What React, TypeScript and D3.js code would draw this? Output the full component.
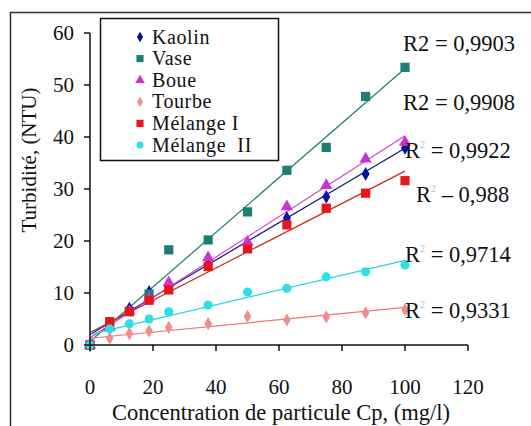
import React from "react";
import * as d3 from "d3";

const xValues = [0, 6.25, 12.5, 18.75, 25, 37.5, 50, 62.5, 75, 87.5, 100];
const seriesNames = ["Kaolin", "Vase", "Boue", "Tourbe", "Mélange I", "Mélange  II"];
const kaolin = [0, 4.0, 7.0, 10.2, 11.5, 16.5, 19.6, 24.4, 28.5, 32.9, 37.9];
const vase = [0, 3.5, 6.5, 9.8, 18.3, 20.2, 25.6, 33.6, 38.0, 47.8, 53.4];
const boue = [0, 3.5, 6.5, 9.0, 12.0, 16.8, 19.8, 26.6, 30.7, 35.8, 39.0];
const tourbe = [0, 1.3, 2.2, 2.7, 3.4, 4.1, 5.5, 4.8, 5.4, 6.2, 6.8];
const melange1 = [0, 4.5, 6.4, 8.6, 10.6, 15.1, 18.5, 23.1, 26.3, 29.2, 31.6];
const melange2 = [0, 3.1, 4.1, 5.0, 6.4, 7.7, 10.2, 10.9, 13.1, 14.1, 15.4];
const xTicks = [0, 20, 40, 60, 80, 100, 120];
const yTicks = [0, 10, 20, 30, 40, 50, 60];
const r2Labels = ["R2 = 0,9903", "R2 = 0,9908", "= 0,9922", "– 0,988", "= 0,9714", "= 0,9331"];

const seriesValues = [kaolin, vase, boue, tourbe, melange1, melange2];
const colors = ["#0c0ca8", "#1b7f76", "#cc33cc", "#f08c8c", "#e8161b", "#2ee0e6"];
const lineColors = ["#14148a", "#1f7a72", "#d040d0", "#e87878", "#c8281c", "#2ad4dc"];
const symbols = [d3.symbolDiamond, d3.symbolSquare, d3.symbolTriangle, d3.symbolDiamond, d3.symbolSquare, d3.symbolCircle];
const symSizes = [55, 85, 65, 50, 85, 65];

const FONT = '"Liberation Serif"';

function regress(xs: number[], ys: number[]) {
  const n = xs.length;
  const mx = d3.mean(xs)!;
  const my = d3.mean(ys)!;
  let num = 0, den = 0;
  for (let i = 0; i < n; i++) {
    num += (xs[i] - mx) * (ys[i] - my);
    den += (xs[i] - mx) ** 2;
  }
  const b = num / den;
  return { a: my - b * mx, b };
}

export default function App() {
  const W = 531, H = 426;
  const x = d3.scaleLinear().domain([0, 120]).range([90, 468]);
  const y = d3.scaleLinear().domain([0, 60]).range([345, 33]);
  const line = d3.line<[number, number]>().x(d => x(d[0])).y(d => y(d[1]));

  const r2Pos = [
    { x: 403, y: 51, sup: false },
    { x: 403, y: 110, sup: false },
    { x: 405, y: 158, sup: true },
    { x: 416, y: 202, sup: true },
    { x: 405, y: 262, sup: true },
    { x: 405, y: 318, sup: true },
  ];

  return (
    <svg width={W} height={H} style={{ position: "absolute", left: 0, top: 0, background: "#fff" }}>
      <rect x={0} y={0} width={W} height={H} fill="#fff" />
      <path d={`M10.5,${H + 2} L10.5,12.5 L${W + 2},12.5`} fill="none" stroke="#333" strokeWidth={1.5} />

      {seriesValues.map((vals, i) => {
        const { a, b } = regress(xValues, vals);
        return (
          <path key={"t" + i} d={line([[0, a], [100, a + b * 100]])!} fill="none" stroke={lineColors[i]} strokeWidth={1.2} />
        );
      })}

      {seriesValues.map((vals, i) => (
        <g key={"m" + i} fill={colors[i]}>
          {vals.map((v, j) => (
            <path key={j} d={d3.symbol().type(symbols[i]).size(symSizes[i])()!} transform={`translate(${x(xValues[j])},${y(v)})`} />
          ))}
        </g>
      ))}

      <line x1={x(0)} x2={x(0)} y1={y(60)} y2={y(0)} stroke="#111" strokeWidth={1.5} />
      <line x1={x(0)} x2={x(120)} y1={y(0)} y2={y(0)} stroke="#111" strokeWidth={1.5} />
      {yTicks.map(t => (
        <g key={"y" + t}>
          <line x1={x(0) - 6} x2={x(0)} y1={y(t)} y2={y(t)} stroke="#111" strokeWidth={1.5} />
          <text x={74} y={y(t) + 7} textAnchor="end" style={{ fontFamily: FONT, fontSize: 21 }} fill="#111">{t}</text>
        </g>
      ))}
      {xTicks.map(t => (
        <g key={"x" + t}>
          <line x1={x(t)} x2={x(t)} y1={y(0)} y2={y(0) + 6} stroke="#111" strokeWidth={1.5} />
          <text x={x(t)} y={394} textAnchor="middle" style={{ fontFamily: FONT, fontSize: 21 }} fill="#111">{t}</text>
        </g>
      ))}

      <text transform="translate(36,160) rotate(-90)" textAnchor="middle" style={{ fontFamily: FONT, fontSize: 21 }} fill="#111">Turbidité, (NTU)</text>
      <text x={281} y={420} textAnchor="middle" style={{ fontFamily: FONT, fontSize: 22.5 }} fill="#111">Concentration de particule Cp, (mg/l)</text>

      {r2Labels.map((lab, i) => (
        <text key={"r" + i} x={r2Pos[i].x} y={r2Pos[i].y} style={{ fontFamily: FONT, fontSize: 22.5 }} fill="#111">
          {r2Pos[i].sup ? (
            <>
              <tspan>R</tspan>
              <tspan dy={-10} style={{ fontSize: 10 }} fill="#bbb">2</tspan>
              <tspan dy={10}> {lab}</tspan>
            </>
          ) : lab}
        </text>
      ))}

      <rect x={100.5} y={18.5} width={178} height={142} fill="#fff" stroke="#111" strokeWidth={1.5} />
      {seriesNames.map((name, i) => {
        const cy = 37 + i * 21.6;
        return (
          <g key={"l" + i}>
            <path d={d3.symbol().type(symbols[i]).size(symSizes[i] * 0.6)()!} transform={`translate(140,${cy})`} fill={colors[i]} />
            <text x={152} y={cy + 6.5} style={{ fontFamily: FONT, fontSize: 20, letterSpacing: 0.6, whiteSpace: "pre" }} fill="#111">{name}</text>
          </g>
        );
      })}
    </svg>
  );
}
